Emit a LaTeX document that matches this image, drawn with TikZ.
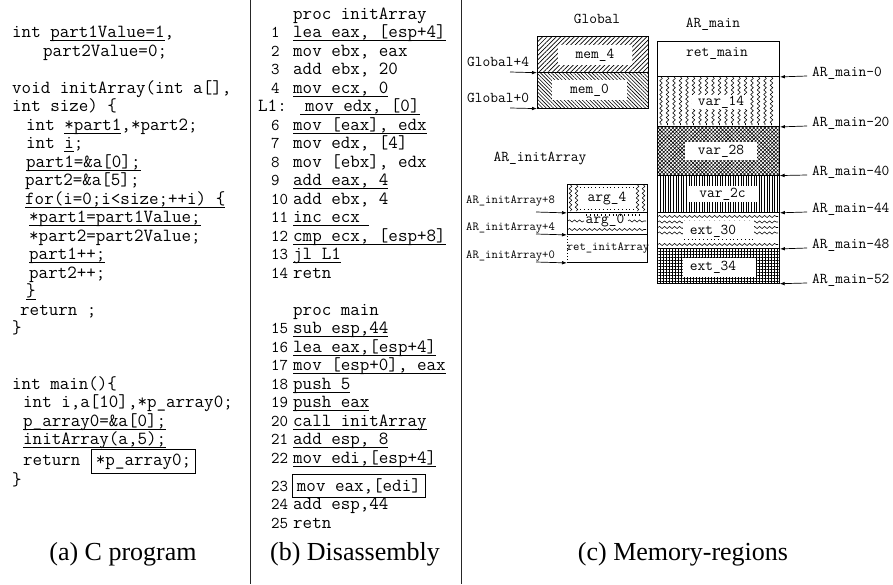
\documentclass[tikz,border=0pt]{standalone}
\usepackage{fontspec}
\setmainfont{Liberation Serif}
\usetikzlibrary{patterns.meta,decorations.pathmorphing,arrows.meta}

\newsavebox\ulbox
% underline a code fragment at a fixed depth below the baseline
\newcommand\ulseg[1]{\sbox\ulbox{#1}\rlap{\rule[-3.6pt]{\wd\ulbox}{0.8pt}}\usebox\ulbox}

\begin{document}
\begin{tikzpicture}[
  x=1pt, y=-1pt,
  code/.style={anchor=base west, inner sep=0pt, font=\fontsize{18.5}{20}\ttfamily},
  lnum/.style={anchor=base west, inner sep=0pt, font=\fontsize{16.5}{18}\ttfamily},
  captext/.style={anchor=base, inner sep=0pt, font=\fontsize{26}{28}\selectfont},
  mlabel/.style={inner sep=0pt, font=\fontsize{15}{16}\ttfamily},
  slabel/.style={inner sep=0pt, font=\fontsize{12.3}{14}\ttfamily},
  cell/.style={draw, line width=0.9pt, inner sep=0pt, anchor=north west},
  hole/.style={fill=white, inner sep=0pt},
  ptr/.style={-{Latex[length=5pt,width=3.6pt]}, line width=0.7pt},
  vwavy/.style={decorate, decoration={snake, amplitude=1.3pt, segment length=4.6pt}, line width=0.55pt},
  hwavy/.style={decorate, decoration={snake, amplitude=1.1pt, segment length=5pt}, line width=0.55pt},
  ticks/.style={line width=1.1pt, dash pattern=on 0.8pt off 3pt},
  divider/.style={line width=1.1pt, black!85},
  boxed/.style={draw, line width=0.9pt, inner xsep=4.5pt, inner ysep=4pt, anchor=base west},
]
\useasboundingbox (0,0) rectangle (893,584);
\fill[white] (0,0) rectangle (893,584);

% panel separators
\draw[divider] (250.5,0) -- (250.5,584);
\draw[divider] (461.5,0) -- (461.5,584);

% ---------------- (a) C program ----------------
\node[code] (a1) at (12,37.5) {int \ulseg{part1Value=1},};
\node[code] (a2) at (43,56) {part2Value=0;};
\node[code] (a3) at (12,93) {void initArray(int a[],};
\node[code] (a4) at (12,111.5) {int size) \{};
\node[code] (a5) at (26,130) {int \ulseg{*part1},*part2;};
\node[code] (a6) at (26,148.5) {int \ulseg{i};};
\node[code] (a7) at (26,167) {\ulseg{part1=\&a[0];}};
\node[code] (a8) at (25,185.5) {part2=\&a[5];};
\node[code] (a9) at (25,204) {\ulseg{for(i=0;i<size;++i) \{}};
\node[code] (a10) at (29,222.5) {\ulseg{*part1=part1Value;}};
\node[code] (a11) at (29,241) {*part2=part2Value;};
\node[code] (a12) at (29,259.5) {\ulseg{part1++;}};
\node[code] (a13) at (29,278) {part2++;};
\node[code] (a14) at (26,296.5) {\ulseg{\}}};
\node[code] (a15) at (20,315) {return ;};
\node[code] (a16) at (12,333.5) {\}};
\node[code] (a17) at (12,389) {int main()\{};
\node[code] (a18) at (23,407.5) {int i,a[10],*p\_array0;};
\node[code] (a19) at (23,426) {\ulseg{p\_array0=\&a[0];}};
\node[code] (a20) at (23,444.5) {\ulseg{initArray(a,5);}};
\node[code] (a21) at (23,465) {return};
\node[code, boxed] (a21b) at (91,465) {*p\_array0;};
\node[code] (a22) at (12,485) {\}};
\node[captext] (capa) at (123,560) {(a) C program};

% ---------------- (b) Disassembly ----------------
\node[code] (p1) at (293,19) {proc initArray};
\node[lnum] (n1) at (271,37.5) {1};
\node[code] (i1) at (293,37.5) {\ulseg{lea eax, [esp+4]}};
\node[lnum] (n2) at (271,56) {2};
\node[code] (i2) at (293,56) {mov ebx, eax};
\node[lnum] (n3) at (271,74.5) {3};
\node[code] (i3) at (293,74.5) {add ebx, 20};
\node[lnum] (n4) at (271,93) {4};
\node[code] (i4) at (293,93) {\ulseg{mov ecx, 0}};
\node[code] (n5) at (258,111.5) {L1:};
\node[code] (i5) at (300,111.5) {\ulseg{\kern5pt mov edx, [0]}};
\node[lnum] (n6) at (271,130) {6};
\node[code] (i6) at (293,130) {\ulseg{mov [eax], edx}};
\node[lnum] (n7) at (271,148.5) {7};
\node[code] (i7) at (293,148.5) {mov edx, [4]};
\node[lnum] (n8) at (271,167) {8};
\node[code] (i8) at (293,167) {mov [ebx], edx};
\node[lnum] (n9) at (271,185.5) {9};
\node[code] (i9) at (293,185.5) {\ulseg{add eax, 4}};
\node[lnum] (n10) at (271,204) {10};
\node[code] (i10) at (293,204) {add ebx, 4};
\node[lnum] (n11) at (271,222.5) {11};
\node[code] (i11) at (293,222.5) {\ulseg{inc ecx\ }};
\node[lnum] (n12) at (271,241) {12};
\node[code] (i12) at (293,241) {\ulseg{cmp ecx, [esp+8]}};
\node[lnum] (n13) at (271,259.5) {13};
\node[code] (i13) at (293,259.5) {\ulseg{jl L1}};
\node[lnum] (n14) at (271,278) {14};
\node[code] (i14) at (293,278) {retn};
\node[code] (p2) at (293,315) {proc main};
\node[lnum] (n15) at (271,333.5) {15};
\node[code] (i15) at (293,333.5) {\ulseg{sub esp,44}};
\node[lnum] (n16) at (271,352) {16};
\node[code] (i16) at (293,352) {\ulseg{lea eax,[esp+4]}};
\node[lnum] (n17) at (271,370.5) {17};
\node[code] (i17) at (293,370.5) {\ulseg{mov [esp+0], eax}};
\node[lnum] (n18) at (271,389) {18};
\node[code] (i18) at (293,389) {\ulseg{push 5}};
\node[lnum] (n19) at (271,407.5) {19};
\node[code] (i19) at (293,407.5) {\ulseg{push eax}};
\node[lnum] (n20) at (271,426) {20};
\node[code] (i20) at (293,426) {\ulseg{call initArray}};
\node[lnum] (n21) at (271,444.5) {21};
\node[code] (i21) at (293,444.5) {\ulseg{add esp, 8}};
\node[lnum] (n22) at (271,463) {22};
\node[code] (i22) at (293,463) {\ulseg{mov edi,[esp+4]}};
\node[lnum] (n23) at (271,491) {23};
\node[code, boxed] (i23) at (292,491) {mov eax,[edi]};
\node[lnum] (n24) at (271,509.5) {24};
\node[code] (i24) at (293,509.5) {add esp,44};
\node[lnum] (n25) at (271,528) {25};
\node[code] (i25) at (293,528) {retn};
\node[captext] (capb) at (355,560) {(b) Disassembly};

% ---------------- (c) Memory-regions ----------------
% global region
\node[mlabel] (gtitle) at (597,19) {Global};
\node[cell, minimum width=111pt, minimum height=36pt,
      pattern={Lines[angle=45,distance=3.2pt,line width=0.7pt]}] (gm4) at (537,36) {};
\node[cell, minimum width=111pt, minimum height=36pt,
      pattern={Lines[angle=-45,distance=2.6pt,line width=0.6pt]}] (gm0) at (537,72) {};
\node[hole, mlabel, minimum width=74pt, minimum height=20pt] (mem4) at (595,55) {mem\_4};
\node[hole, mlabel, minimum width=75pt, minimum height=20pt] (mem0) at (589.5,90) {mem\_0};
\node[mlabel, anchor=base west] (lg4) at (467,66) {Global+4};
\node[mlabel, anchor=base west] (lg0) at (467,102) {Global+0};
\coordinate (tg4) at (510,72);
\coordinate (tg0) at (510,108);
\draw[ptr] (tg4) -- (gm4.south west);
\draw[ptr] (tg0) -- (gm0.south west);

% activation record of initArray
\node[mlabel] (ititle) at (540,159) {AR\_initArray};
\node[cell, minimum width=80pt, minimum height=28pt] (ia4) at (567,184) {};
\node[cell, minimum width=80pt, minimum height=22pt] (ia0) at (567,212) {};
\node[cell, draw=none, minimum width=80pt, minimum height=28pt] (iret) at (567,234) {};
\draw[line width=0.9pt] (iret.north west) -- (iret.north east) -- (iret.south east) -- (iret.south west);
\draw[line width=0.9pt, dotted] (iret.south west) -- (iret.north west);
\foreach \x in {570.5,576.5,637.5,643.5}
  \draw[vwavy] (\x,185) -- (\x,211);
\draw[ticks] (580,187.5) -- (636,187.5);
\draw[ticks] (580,209.5) -- (636,209.5);
\node[mlabel] (arg4) at (607,199) {arg\_4};
\draw[ticks] (586,215) -- (640,215);
\draw[hwavy] (568,221) -- (584,221);
\draw[hwavy] (628,221) -- (646,221);
\draw[hwavy] (568,229.5) -- (646,229.5);
\node[mlabel] (arg0) at (605,221) {arg\_0};
\node[slabel] (retia) at (608,248) {ret\_initArray};
\node[slabel, anchor=base west] (li8) at (466,203.5) {AR\_initArray+8};
\node[slabel, anchor=base west] (li4) at (466,230.5) {AR\_initArray+4};
\node[slabel, anchor=base west] (li0) at (466,258.5) {AR\_initArray+0};
\coordinate (ti8) at (536,212);
\coordinate (ti4) at (536,234);
\coordinate (ti0) at (536,262);
\draw[ptr] (ti8) -- (ia4.south west);
\draw[ptr] (ti4) -- (ia0.south west);
\draw[ptr] (ti0) -- (iret.south west);

% activation record of main
\node[mlabel] (mtitle) at (713,24) {AR\_main};
\node[cell, minimum width=122pt, minimum height=35pt] (cret) at (657,41) {};
\node[mlabel] (tret) at (717,53) {ret\_main};

\node[cell, minimum width=122pt, minimum height=50pt] (c14) at (657,76) {};
\foreach \x in {661,667.5,...,776}
  \draw[vwavy] (\x,77) -- (\x,125);
\node[hole, mlabel, minimum width=58pt, minimum height=14pt] (t14) at (721,102) {var\_14};

\node[cell, minimum width=122pt, minimum height=49pt,
      pattern={Hatch[angle=45,distance=2.6pt,line width=0.55pt]}] (c28) at (657,126) {};
\node[hole, mlabel, minimum width=72pt, minimum height=18pt] (t28) at (721,151) {var\_28};

\node[cell, minimum width=122pt, minimum height=37pt,
      pattern={Lines[angle=90,distance=2.6pt,line width=0.8pt]}] (c2c) at (657,175) {};
\node[hole, mlabel, minimum width=69pt, minimum height=16pt] (t2c) at (722.5,194) {var\_2c};

\node[cell, minimum width=122pt, minimum height=36pt] (c30) at (657,212) {};
\draw[hwavy] (658,216.5) -- (778,216.5);
\foreach \y in {222,227.5,233}
  \draw[hwavy] (658,\y) -- (778,\y);
\draw[hwavy] (658,244.5) -- (778,244.5);
\node[hole, minimum width=71pt, minimum height=17pt] (h30) at (718.5,229) {};
\draw[ticks] (684,239.5) -- (753,239.5);
\node[mlabel] (t30) at (713,231) {ext\_30};

\node[cell, minimum width=122pt, minimum height=35pt,
      pattern={Hatch[angle=0,distance=3pt,line width=0.7pt]}] (c34) at (657,248) {};
\node[hole, minimum width=73pt, minimum height=19pt] (h34) at (719.5,267.5) {};
\node[mlabel] (t34) at (713,267) {ext\_34};

\coordinate (r0) at (807,76);
\coordinate (r20) at (807,126);
\coordinate (r40) at (807,175);
\coordinate (r44) at (807,212);
\coordinate (r48) at (807,248);
\coordinate (r52) at (807,283);
\draw[ptr] (r0) -- (cret.south east);
\draw[ptr] (r20) -- (c14.south east);
\draw[ptr] (r40) -- (c28.south east);
\draw[ptr] (r44) -- (c2c.south east);
\draw[ptr] (r48) -- (c30.south east);
\draw[ptr] (r52) -- (c34.south east);
\node[mlabel, anchor=base west] (l0) at (812,76.5) {AR\_main-0};
\node[mlabel, anchor=base west] (l20) at (812,126.5) {AR\_main-20};
\node[mlabel, anchor=base west] (l40) at (812,175.5) {AR\_main-40};
\node[mlabel, anchor=base west] (l44) at (812,212.5) {AR\_main-44};
\node[mlabel, anchor=base west] (l48) at (812,248.5) {AR\_main-48};
\node[mlabel, anchor=base west] (l52) at (812,283.5) {AR\_main-52};

\node[captext] (capc) at (683,560) {(c) Memory-regions};
\end{tikzpicture}
\end{document}
